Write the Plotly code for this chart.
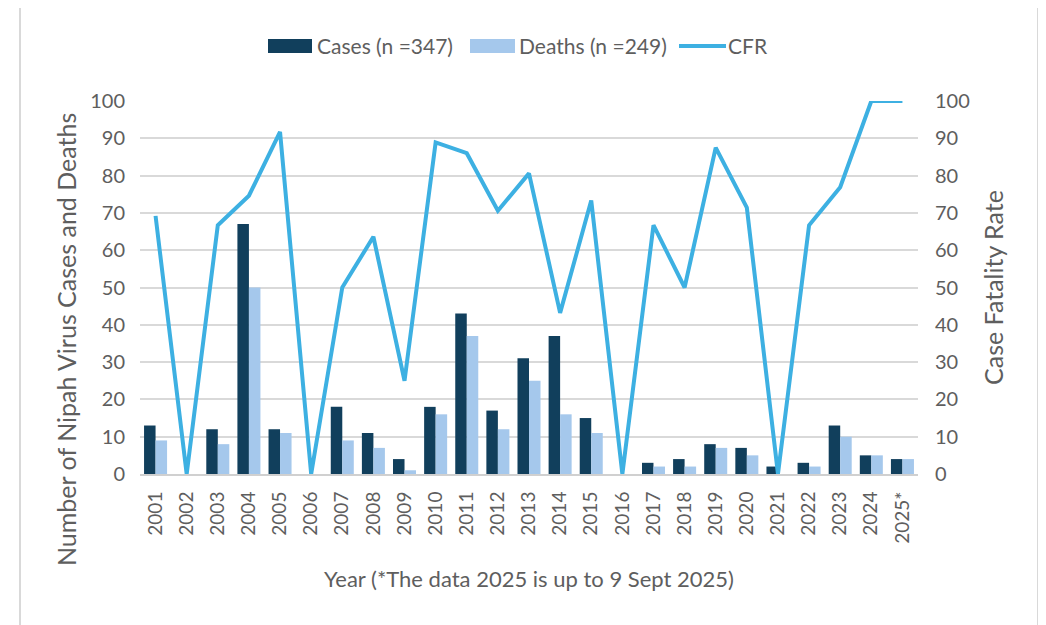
import plotly.graph_objects as go

years = ["2001", "2002", "2003", "2004", "2005", "2006", "2007", "2008", "2009", "2010",
         "2011", "2012", "2013", "2014", "2015", "2016", "2017", "2018", "2019", "2020",
         "2021", "2022", "2023", "2024", "2025*"]
cases = [13, 0, 12, 67, 12, 0, 18, 11, 4, 18, 43, 17, 31, 37, 15, 0, 3, 4, 8, 7, 2, 3, 13, 5, 4]
deaths = [9, 0, 8, 50, 11, 0, 9, 7, 1, 16, 37, 12, 25, 16, 11, 0, 2, 2, 7, 5, 0, 2, 10, 5, 4]
cfr = [69.2, 0, 66.7, 74.6, 91.7, 0, 50, 63.6, 25, 88.9, 86, 70.6, 80.6, 43.2, 73.3, 0,
       66.7, 50, 87.5, 71.4, 0, 66.7, 76.9, 100, 100]

C_CASES = "#113F5C"
C_DEATHS = "#A5C8EC"
C_CFR = "#3DB0E2"
TXT = "#5E5E5E"
FONT = "Lato"

fig = go.Figure()
fig.add_trace(go.Bar(x=years, y=cases, name="Cases (n =347)", marker_color=C_CASES,
                     marker_line_width=0, showlegend=False))
fig.add_trace(go.Bar(x=years, y=deaths, name="Deaths (n =249)", marker_color=C_DEATHS,
                     marker_line_width=0, showlegend=False))
fig.add_trace(go.Scatter(x=years, y=cfr, name="CFR", mode="lines", yaxis="y2",
                         line=dict(color=C_CFR, width=4), showlegend=False))

OFF = 8  # page body margin
W, H = 1046 - OFF, 625 - OFF
# plot area in screen coordinates
SX0, SX1, SY0, SY1 = 140, 918, 101, 474
L, R, T, B = SX0 - OFF, W - (SX1 - OFF), SY0 - OFF, H - (SY1 - OFF)
PW, PH = SX1 - SX0, SY1 - SY0


def px(x):
    return (x - SX0) / PW


def py(y):
    return (SY1 - y) / PH


shapes = [
    dict(type="rect", xref="paper", yref="paper", x0=px(20), x1=px(1038), y0=py(660), y1=py(6),
         line=dict(color="#D9D9D9", width=2), fillcolor="rgba(0,0,0,0)", layer="below"),
    dict(type="rect", xref="paper", yref="paper", x0=px(268), x1=px(312), y0=py(53), y1=py(39),
         line=dict(width=0), fillcolor=C_CASES),
    dict(type="rect", xref="paper", yref="paper", x0=px(470), x1=px(515), y0=py(53), y1=py(39),
         line=dict(width=0), fillcolor=C_DEATHS),
    dict(type="line", xref="paper", yref="paper", x0=px(679), x1=px(726), y0=py(46), y1=py(46),
         line=dict(color=C_CFR, width=4)),
]


def ann(text, x, y, size, xanchor="left", angle=0):
    return dict(text=text, xref="paper", yref="paper", x=px(x), y=py(y), xanchor=xanchor,
                yanchor="middle", textangle=angle, showarrow=False,
                font=dict(size=size, color=TXT, family=FONT))


annotations = [
    ann("Cases (n =347)", 315, 46, 21),
    ann("Deaths (n =249)", 517, 46, 21),
    ann("CFR", 726, 46, 21),
    ann("Number of Nipah Virus Cases and Deaths", 66, 340, 25, "center", -90),
    ann("Case Fatality Rate", 993, 287, 25, "center", -90),
    ann("Year (*The data 2025 is up to 9 Sept 2025)", 529, 578, 22, "center"),
]

fig.update_layout(
    width=W, height=H,
    margin=dict(l=L, r=R, t=T, b=B),
    paper_bgcolor="white", plot_bgcolor="white",
    barmode="group", bargap=0.26, bargroupgap=0,
    font=dict(family=FONT, color=TXT, size=18),
    showlegend=False,
    xaxis=dict(type="category", tickangle=-90, showgrid=False, showline=True,
               linecolor="#D0D0D0", linewidth=2, ticks="", ticklabelstandoff=8,
               tickfont=dict(size=19, color=TXT, family=FONT)),
    yaxis=dict(range=[0, 100], dtick=10, showgrid=True, gridcolor="#D9D9D9", gridwidth=2,
               zeroline=False, showline=False, ticks="", ticklabelstandoff=14,
               tickfont=dict(size=20, color=TXT, family=FONT)),
    yaxis2=dict(range=[0, 100], dtick=10, overlaying="y", side="right", showgrid=False,
                zeroline=False, showline=False, ticks="", ticklabelstandoff=16,
                tickfont=dict(size=20, color=TXT, family=FONT)),
    shapes=shapes, annotations=annotations,
)

fig.write_html("out.html")
